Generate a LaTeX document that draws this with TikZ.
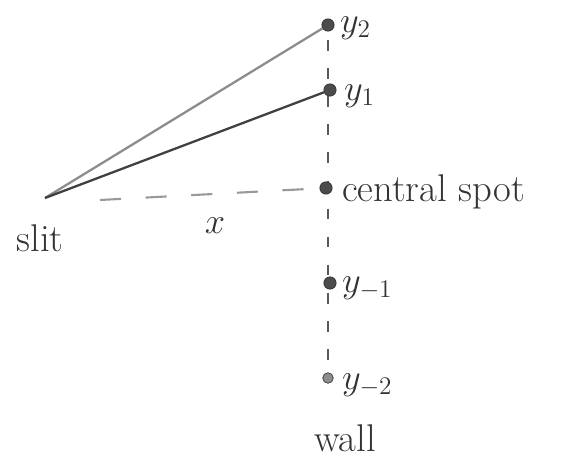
\documentclass[tikz,border=0pt]{standalone}
\begin{document}
\begin{tikzpicture}[x=0.02cm,y=-0.02cm,
  pt/.style={circle,fill=black!70,draw=black!80,inner sep=0pt,minimum size=7pt},
  lbl/.style={font=\fontsize{22}{26}\selectfont,text=black!80,inner sep=1pt},
  wallline/.style={draw=black!65,line width=1pt,dash pattern=on 6pt off 10pt},
  ray/.style={line width=1.3pt}]
\useasboundingbox (0,0) rectangle (562,463);
\coordinate (top) at (328,40);
\coordinate (bot) at (328,368);
\draw[wallline] (top) -- (bot);
\node[pt] (y2) at (328,25) {};
\node[pt] (y1) at (330,90) {};
\node[pt] (c) at (326,188) {};
\node[pt] (ym1) at (330,283) {};
\node[pt,fill=black!45,minimum size=6pt] (ym2) at (328,378) {};
\coordinate (slit) at (45,198);
\draw[ray,draw=black!45] (slit) -- (y2);
\draw[ray,draw=black!75] (slit) -- (y1);
\draw[draw=black!40,line width=1.2pt,dash pattern=on 12pt off 14pt] (slit) ++(55,2) coordinate (h0) (h0) -- (c);
\node[lbl,anchor=west] (ly2) at (338,28) {$y_2$};
\node[lbl,anchor=west] (ly1) at (342,96) {$y_1$};
\node[lbl,anchor=west] (lc) at (340,192) {central spot};
\node[lbl,anchor=west] (lym1) at (340,288) {$y_{-1}$};
\node[lbl,anchor=west] (lym2) at (340,385) {$y_{-2}$};
\node[lbl] (lw) at (345,438) {wall};
\node[lbl] (ls) at (40,238) {slit};
\node[lbl] (lx) at (215,226) {$x$};
\end{tikzpicture}
\end{document}
